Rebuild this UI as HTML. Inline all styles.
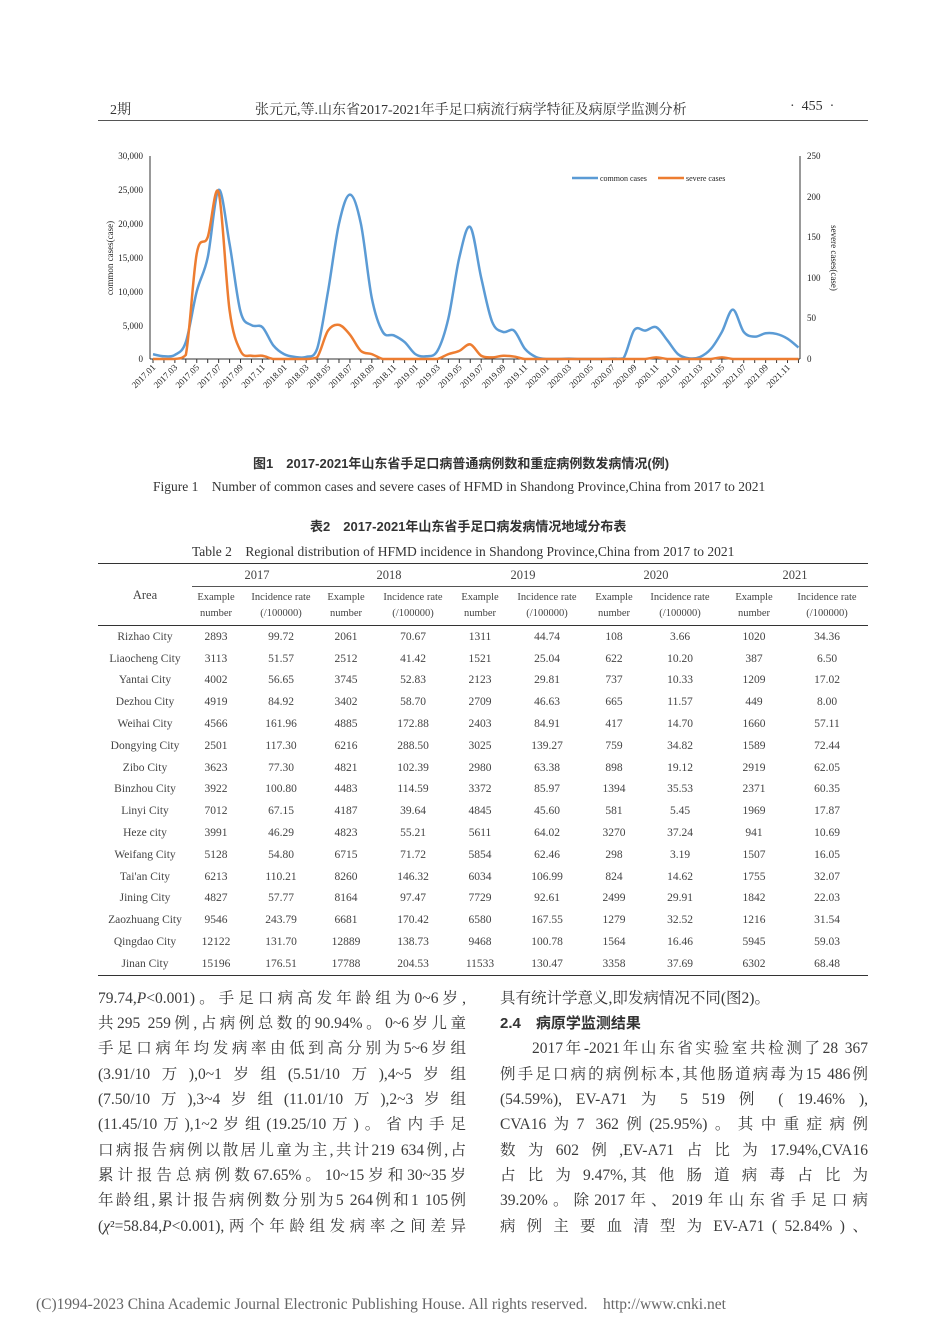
<!DOCTYPE html>
<html><head><meta charset="utf-8">
<style>
body{margin:0;width:950px;height:1344px;background:#fff;position:relative;overflow:hidden;font-family:"Liberation Serif","Noto Serif CJK SC",serif;color:#333}
.a{position:absolute;white-space:nowrap}
.ln{position:absolute;font-size:15.5px;text-align:justify;text-align-last:justify;white-space:nowrap;line-height:20px;color:#3a3a3a}
table{position:absolute;left:98px;top:563px;width:770px;border-collapse:collapse;font-size:11.5px;color:#444}
td{text-align:center;padding:0;height:21.8px}
</style></head><body>
<div class="a" style="left:110px;top:99px;font-size:14px">2期</div>
<div class="a" style="left:255px;top:99px;font-size:14px">张元元,等.山东省2017-2021年手足口病流行病学特征及病原学监测分析</div>
<div class="a" style="left:790px;top:99px;font-size:14px">·&nbsp; 455 &nbsp;·</div>
<div class="a" style="left:98px;top:120px;width:770px;height:1px;background:#555"></div>

<svg class="a" style="left:0;top:0" width="950" height="440" id="ch">
<g font-family="Liberation Serif,serif" font-size="9" fill="#222">
<text x="143" y="159" text-anchor="end">30,000</text>
<text x="143" y="193" text-anchor="end">25,000</text>
<text x="143" y="227" text-anchor="end">20,000</text>
<text x="143" y="261" text-anchor="end">15,000</text>
<text x="143" y="295" text-anchor="end">10,000</text>
<text x="143" y="329" text-anchor="end">5,000</text>
<text x="143" y="362" text-anchor="end">0</text>
<text x="807" y="159">250</text>
<text x="807" y="200">200</text>
<text x="807" y="240">150</text>
<text x="807" y="281">100</text>
<text x="807" y="321">50</text>
<text x="807" y="362">0</text>
<text transform="translate(113,258) rotate(-90)" text-anchor="middle">common cases(case)</text>
<text transform="translate(831,258) rotate(90)" text-anchor="middle">severe cases(case)</text>
<text x="600" y="181" font-size="8">common cases</text>
<text x="686" y="181" font-size="8">severe cases</text>
</g>
<line x1="572" y1="178" x2="598" y2="178" stroke="#5b9bd5" stroke-width="2.5"/>
<line x1="658" y1="178" x2="684" y2="178" stroke="#ed7d31" stroke-width="2.5"/>
<line x1="150" y1="156" x2="150" y2="359" stroke="#333"/>
<line x1="800" y1="156" x2="800" y2="359" stroke="#333"/>
<line x1="150" y1="359" x2="800" y2="359" stroke="#333"/>
<g id="ticks" stroke="#333"></g>
<g id="labs" font-family="Liberation Serif,serif" font-size="9" fill="#222"></g>
<path id="pc" fill="none" stroke="#5b9bd5" stroke-width="2.5"/>
<path id="ps" fill="none" stroke="#ed7d31" stroke-width="2.5"/>
</svg>
<script>
var c=[700,400,600,2500,10000,15000,25000,17000,7000,5000,4700,2000,700,300,300,1500,10000,20000,24300,20000,9000,4000,3500,2500,700,400,1200,6000,15000,19500,12000,5500,4000,4200,1500,300,0,0,50,0,0,0,50,100,4300,4200,4700,2800,700,100,300,1500,4000,7300,4000,3300,3800,3700,3000,1700];
var s=[0,0,0,5,130,150,205,60,10,4,4,0,0,0,0,2,35,42,30,10,6,0,0,0,0,0,0,6,10,18,4,2,4,3,0,0,0,0,0,0,0,0,0,0,0,0,2,0,0,0,0,0,2,0,0,0,0,0,0,0];
function X(i){return 153+i*10.94}
function cl(y){return Math.min(y,359)}
function path(a,f){var p=a.map(function(v,i){return[X(i),f(v)]});var d="M"+p[0][0]+","+p[0][1];
for(var i=0;i<p.length-1;i++){var p0=p[i-1]||p[i],p1=p[i],p2=p[i+1],p3=p[i+2]||p2;
d+=" C"+(p1[0]+(p2[0]-p0[0])/6)+","+cl(p1[1]+(p2[1]-p0[1])/6)+" "+(p2[0]-(p3[0]-p1[0])/6)+","+cl(p2[1]-(p3[1]-p1[1])/6)+" "+p2[0]+","+p2[1];}return d;}
document.getElementById("pc").setAttribute("d",path(c,function(v){return 359-v/30000*203}));
document.getElementById("ps").setAttribute("d",path(s,function(v){return 359-v/250*203}));
var t="",l="";
for(var i=0;i<60;i++){t+='<line x1="'+X(i)+'" y1="359" x2="'+X(i)+'" y2="363"/>';
if(i%2==0){var y=2017+Math.floor(i/12),m=i%12+1;l+='<text transform="translate('+(X(i)+3)+',368) rotate(-45)" text-anchor="end">'+y+'.'+(m<10?'0':'')+m+'</text>';}}
document.getElementById("ticks").innerHTML=t;document.getElementById("labs").innerHTML=l;
</script>

<div class="a" style="left:253px;top:453px;font-size:13px;font-weight:bold;font-family:'Liberation Sans','Noto Sans CJK SC',sans-serif">图1　2017-2021年山东省手足口病普通病例数和重症病例数发病情况(例)</div>
<div class="a" style="left:153px;top:475px;font-size:13.5px">Figure 1　Number of common cases and severe cases of HFMD in Shandong Province,China from 2017 to 2021</div>
<div class="a" style="left:310px;top:516px;font-size:13px;font-weight:bold;font-family:'Liberation Sans','Noto Sans CJK SC',sans-serif">表2　2017-2021年山东省手足口病发病情况地域分布表</div>
<div class="a" style="left:192px;top:540px;font-size:13.5px">Table 2　Regional distribution of HFMD incidence in Shandong Province,China from 2017 to 2021</div>

<table>
<colgroup><col style="width:94px"><col style="width:48px"><col style="width:82px"><col style="width:48px"><col style="width:86px"><col style="width:48px"><col style="width:86px"><col style="width:48px"><col style="width:84px"><col style="width:64px"><col style="width:82px"></colgroup>
<tr style="border-top:1.5px solid #333"><td rowspan="2" style="font-size:12.5px;vertical-align:top;padding-top:24px">Area</td>
<td colspan="2" style="font-size:12.5px;border-bottom:1px solid #555;height:22px">2017</td><td colspan="2" style="font-size:12.5px;border-bottom:1px solid #555">2018</td><td colspan="2" style="font-size:12.5px;border-bottom:1px solid #555">2019</td><td colspan="2" style="font-size:12.5px;border-bottom:1px solid #555">2020</td><td colspan="2" style="font-size:12.5px;border-bottom:1px solid #555">2021</td></tr>
<tr style="border-bottom:1px solid #333;font-size:10.5px;line-height:16px"><td style="height:38px">Example<br>number</td><td>Incidence rate<br>(/100000)</td><td>Example<br>number</td><td>Incidence rate<br>(/100000)</td><td>Example<br>number</td><td>Incidence rate<br>(/100000)</td><td>Example<br>number</td><td>Incidence rate<br>(/100000)</td><td>Example<br>number</td><td>Incidence rate<br>(/100000)</td></tr>
<tr><td>Rizhao City</td><td>2893</td><td>99.72</td><td>2061</td><td>70.67</td><td>1311</td><td>44.74</td><td>108</td><td>3.66</td><td>1020</td><td>34.36</td></tr>
<tr><td>Liaocheng City</td><td>3113</td><td>51.57</td><td>2512</td><td>41.42</td><td>1521</td><td>25.04</td><td>622</td><td>10.20</td><td>387</td><td>6.50</td></tr>
<tr><td>Yantai City</td><td>4002</td><td>56.65</td><td>3745</td><td>52.83</td><td>2123</td><td>29.81</td><td>737</td><td>10.33</td><td>1209</td><td>17.02</td></tr>
<tr><td>Dezhou City</td><td>4919</td><td>84.92</td><td>3402</td><td>58.70</td><td>2709</td><td>46.63</td><td>665</td><td>11.57</td><td>449</td><td>8.00</td></tr>
<tr><td>Weihai City</td><td>4566</td><td>161.96</td><td>4885</td><td>172.88</td><td>2403</td><td>84.91</td><td>417</td><td>14.70</td><td>1660</td><td>57.11</td></tr>
<tr><td>Dongying City</td><td>2501</td><td>117.30</td><td>6216</td><td>288.50</td><td>3025</td><td>139.27</td><td>759</td><td>34.82</td><td>1589</td><td>72.44</td></tr>
<tr><td>Zibo City</td><td>3623</td><td>77.30</td><td>4821</td><td>102.39</td><td>2980</td><td>63.38</td><td>898</td><td>19.12</td><td>2919</td><td>62.05</td></tr>
<tr><td>Binzhou City</td><td>3922</td><td>100.80</td><td>4483</td><td>114.59</td><td>3372</td><td>85.97</td><td>1394</td><td>35.53</td><td>2371</td><td>60.35</td></tr>
<tr><td>Linyi City</td><td>7012</td><td>67.15</td><td>4187</td><td>39.64</td><td>4845</td><td>45.60</td><td>581</td><td>5.45</td><td>1969</td><td>17.87</td></tr>
<tr><td>Heze city</td><td>3991</td><td>46.29</td><td>4823</td><td>55.21</td><td>5611</td><td>64.02</td><td>3270</td><td>37.24</td><td>941</td><td>10.69</td></tr>
<tr><td>Weifang City</td><td>5128</td><td>54.80</td><td>6715</td><td>71.72</td><td>5854</td><td>62.46</td><td>298</td><td>3.19</td><td>1507</td><td>16.05</td></tr>
<tr><td>Tai'an City</td><td>6213</td><td>110.21</td><td>8260</td><td>146.32</td><td>6034</td><td>106.99</td><td>824</td><td>14.62</td><td>1755</td><td>32.07</td></tr>
<tr><td>Jining City</td><td>4827</td><td>57.77</td><td>8164</td><td>97.47</td><td>7729</td><td>92.61</td><td>2499</td><td>29.91</td><td>1842</td><td>22.03</td></tr>
<tr><td>Zaozhuang City</td><td>9546</td><td>243.79</td><td>6681</td><td>170.42</td><td>6580</td><td>167.55</td><td>1279</td><td>32.52</td><td>1216</td><td>31.54</td></tr>
<tr><td>Qingdao City</td><td>12122</td><td>131.70</td><td>12889</td><td>138.73</td><td>9468</td><td>100.78</td><td>1564</td><td>16.46</td><td>5945</td><td>59.03</td></tr>
<tr style="border-bottom:1.5px solid #333"><td>Jinan City</td><td>15196</td><td>176.51</td><td>17788</td><td>204.53</td><td>11533</td><td>130.47</td><td>3358</td><td>37.69</td><td>6302</td><td>68.48</td></tr>
</table>

<div class="ln" style="left:98px;top:989px;width:368px">79.74,<i>P</i>&lt;0.001)。手足口病高发年龄组为0~6岁,</div>
<div class="ln" style="left:98px;top:1014px;width:368px">共295 259例,占病例总数的90.94%。0~6岁儿童</div>
<div class="ln" style="left:98px;top:1039px;width:368px">手足口病年均发病率由低到高分别为5~6岁组</div>
<div class="ln" style="left:98px;top:1065px;width:368px">(3.91/10万),0~1岁组(5.51/10万),4~5岁组</div>
<div class="ln" style="left:98px;top:1090px;width:368px">(7.50/10万),3~4岁组(11.01/10万),2~3岁组</div>
<div class="ln" style="left:98px;top:1115px;width:368px">(11.45/10万),1~2岁组(19.25/10万)。省内手足</div>
<div class="ln" style="left:98px;top:1141px;width:368px">口病报告病例以散居儿童为主,共计219 634例,占</div>
<div class="ln" style="left:98px;top:1166px;width:368px">累计报告总病例数67.65%。10~15岁和30~35岁</div>
<div class="ln" style="left:98px;top:1191px;width:368px">年龄组,累计报告病例数分别为5 264例和1 105例</div>
<div class="ln" style="left:98px;top:1217px;width:368px">(<i>χ</i>²=58.84,<i>P</i>&lt;0.001),两个年龄组发病率之间差异</div>

<div class="a" style="left:500px;top:989px;font-size:15.5px;line-height:20px">具有统计学意义,即发病情况不同(图2)。</div>
<div class="a" style="left:500px;top:1014px;font-size:15px;line-height:20px;font-weight:bold;font-family:'Liberation Sans','Noto Sans CJK SC',sans-serif">2.4　病原学监测结果</div>
<div class="ln" style="left:532px;top:1039px;width:336px">2017年-2021年山东省实验室共检测了28 367</div>
<div class="ln" style="left:500px;top:1065px;width:368px">例手足口病的病例标本,其他肠道病毒为15 486例</div>
<div class="ln" style="left:500px;top:1090px;width:368px">(54.59%), EV-A71 为 5 519 例 ( 19.46% ),</div>
<div class="ln" style="left:500px;top:1115px;width:368px">CVA16为7 362例(25.95%)。其中重症病例</div>
<div class="ln" style="left:500px;top:1141px;width:368px">数为602例,EV-A71占比为17.94%,CVA16</div>
<div class="ln" style="left:500px;top:1166px;width:368px">占 比 为 9.47%,其 他 肠 道 病 毒 占 比 为</div>
<div class="ln" style="left:500px;top:1191px;width:368px">39.20%。除2017年、2019年山东省手足口病</div>
<div class="ln" style="left:500px;top:1217px;width:368px">病 例 主 要 血 清 型 为 EV-A71 ( 52.84% ) 、</div>

<div class="a" style="left:36px;top:1296px;font-size:15.5px;color:#666">(C)1994-2023 China Academic Journal Electronic Publishing House. All rights reserved.&nbsp;&nbsp;&nbsp; http://www.cnki.net</div>
</body></html>
